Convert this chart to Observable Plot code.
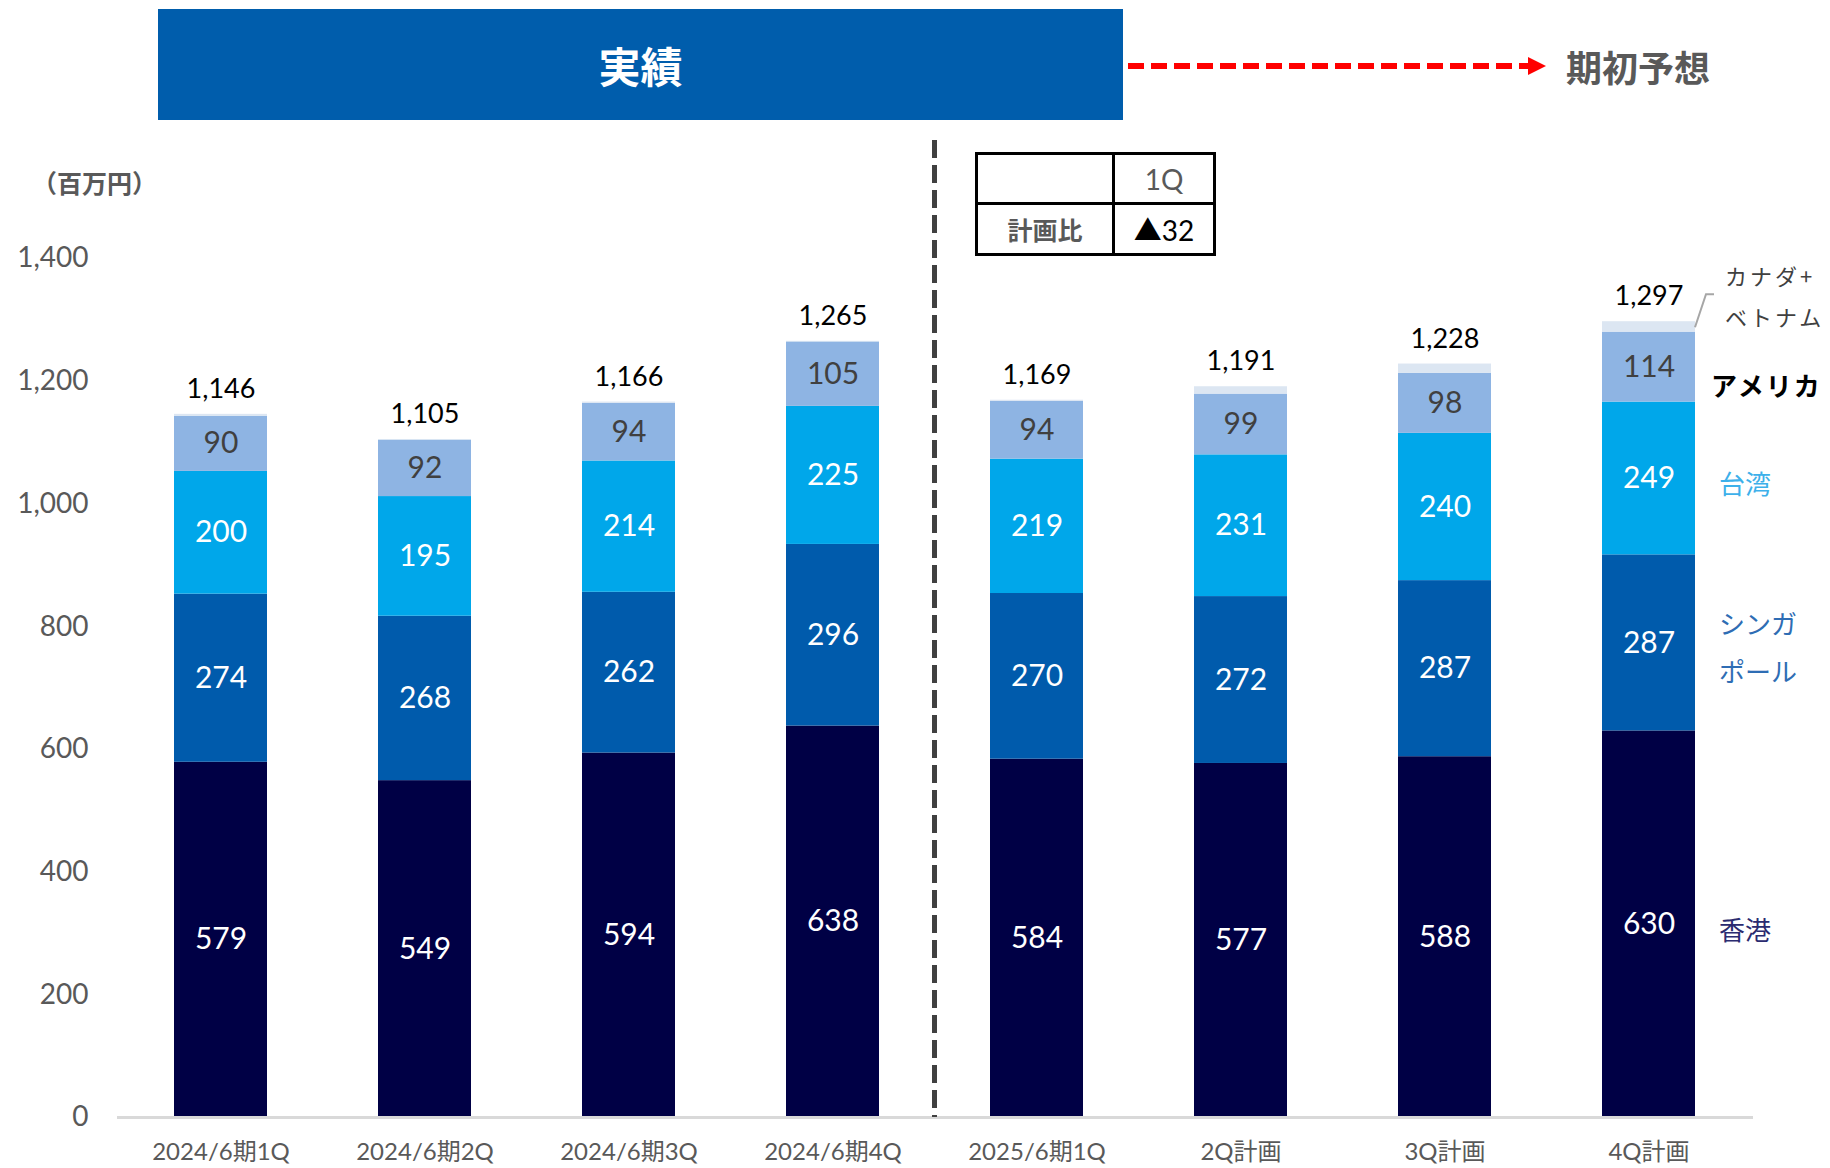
<!DOCTYPE html>
<html><head><meta charset="utf-8">
<script src="https://cdn.jsdelivr.net/npm/d3@7"></script>
<script src="https://cdn.jsdelivr.net/npm/@observablehq/plot@0.6"></script>
<style>
html,body{margin:0;padding:0;background:#fff;overflow:hidden;}
#wrap{position:relative;width:1830px;height:1168px;overflow:hidden;font-family:Lato,"Noto Sans CJK JP",sans-serif;}
#wrap svg{display:block;}
.abs{position:absolute;}
#banner{left:158px;top:9px;width:965px;height:111px;background:#005DAC;color:#fff;font-family:"Noto Sans CJK JP",sans-serif;font-weight:700;font-size:42px;display:flex;align-items:center;justify-content:center;}
#forecast{left:1566px;top:42px;font-family:"Noto Sans CJK JP",sans-serif;font-weight:700;font-size:36px;color:#595959;line-height:48px;}
#unit{left:32px;top:164px;font-family:"Noto Sans CJK JP",sans-serif;font-weight:700;font-size:25px;color:#595959;line-height:36px;}
#tbl{left:975px;top:152px;border-collapse:collapse;font-family:Lato,"Noto Sans CJK JP",sans-serif;}
#tbl td{border:3px solid #000;text-align:center;padding:0;}
</style></head><body><div id="wrap"></div>
<script>
// ---- data ----
const categories = ["2024/6期1Q","2024/6期2Q","2024/6期3Q","2024/6期4Q","2025/6期1Q","2Q計画","3Q計画","4Q計画"];
const seriesNames = ["香港","シンガポール","台湾","アメリカ","カナダ+ベトナム"];
const hongkong  = [579,549,594,638,584,577,588,630];
const singapore = [274,268,262,296,270,272,287,287];
const taiwan    = [200,195,214,225,219,231,240,249];
const america   = [90,92,94,105,94,99,98,114];
const canadaVietnam = [3,1,2,1,2,12,15,17];
const totals    = [1146,1105,1166,1265,1169,1191,1228,1297];
const yTicks    = [0,200,400,600,800,1000,1200,1400];
const tableHeader = "1Q";
const tableRowLabel = "計画比";
const tableValue = "▲32";

// ---- styles ----
const colors = ["#000045","#005BAC","#00A7EA","#8EB4E3","#DCE6F2"];
const labelColors = ["#2B2B70","#2E6DB4","#3DB0EA","#000000","#404040"];

const seriesValues = [hongkong, singapore, taiwan, america, canadaVietnam];
const rows = [];
categories.forEach((c, i) => {
  let base = 0;
  seriesValues.forEach((arr, k) => {
    rows.push({cat: c, series: seriesNames[k], k, value: arr[i], y1: base, y2: base + arr[i], mid: base + arr[i] / 2});
    base += arr[i];
  });
});
const totalRows = categories.map((c, i) => ({cat: c, total: totals[i]}));
const last = categories[categories.length - 1];
const lastRows = rows.filter(r => r.cat === last);
const legendRows = [
  {cat: last, label: "香港", y: lastRows[0].mid, color: labelColors[0]},
  {cat: last, label: "シンガ\nポール", y: lastRows[1].mid, color: labelColors[1]},
  {cat: last, label: "台湾", y: lastRows[2].mid, color: labelColors[2]}
];

const W = 1830, H = 1168;
const plot = Plot.plot({
  width: W, height: H,
  marginLeft: 117, marginRight: 77, marginTop: 258, marginBottom: 51,
  style: {fontFamily: 'Lato, "Noto Sans CJK JP", sans-serif', fontSize: "28px", background: "transparent", overflow: "visible"},
  x: {domain: categories, paddingInner: 0.543, paddingOuter: 0.2715, label: null},
  y: {domain: [0, 1400], label: null},
  color: {domain: seriesNames, range: colors},
  marks: [
    Plot.barY(rows, {x: "cat", y1: "y1", y2: "y2", fill: "series"}),
    Plot.ruleY([0], {stroke: "#D9D9D9", strokeWidth: 3}),
    Plot.axisY({ticks: yTicks, tickFormat: d3.format(","), tickSize: 0, tickPadding: 29, fontSize: 28, fill: "#595959", label: null}),
    Plot.axisX({tickSize: 0, tickPadding: 25, fontSize: 24, fill: "#595959", label: null}),
    Plot.text(rows.filter(r => r.k < 3), {x: "cat", y: "mid", text: d => String(d.value), fill: "white", fontSize: 30}),
    Plot.text(rows.filter(r => r.k === 3), {x: "cat", y: "mid", text: d => String(d.value), fill: "#404040", fontSize: 30}),
    Plot.text(totalRows, {x: "cat", y: "total", text: d => d3.format(",")(d.total), dy: -25, fill: "#000", fontSize: 27}),
    Plot.text(legendRows, {x: "cat", y: "y", text: "label", fill: d => d.color, dx: 70, textAnchor: "start", fontSize: 26, lineHeight: 1.85, fontFamily: '"Noto Sans CJK JP", sans-serif'}),
    Plot.text([lastRows[3]], {x: "cat", y: "mid", text: () => "アメリカ", dx: 62, dy: 21, textAnchor: "start", fontSize: 26, fontWeight: 700, fill: "#000", fontFamily: '"Noto Sans CJK JP", sans-serif'}),
    Plot.text([totalRows[7]], {x: "cat", y: "total", text: () => "カナダ+\nベトナム", dx: 76, dy: -29, textAnchor: "start", fontSize: 22, lineHeight: 1.86, fill: "#404040", fontFamily: '"Noto Sans CJK JP", sans-serif'})
  ]
});
const wrap = document.getElementById("wrap");
wrap.appendChild(plot);
plot.querySelectorAll("text").forEach(t => {
  const s = t.textContent;
  if (s === "アメリカ") t.setAttribute("letter-spacing", "2");
  if (s.startsWith("カナダ")) t.setAttribute("letter-spacing", "3");
});

// overlays positioned from the plot's own scales
const xs = plot.scale("x"), ys = plot.scale("y");
const bw = xs.bandwidth;
const divX = (xs.apply(categories[3]) + xs.apply(categories[4])) / 2 + bw / 2;
const y0 = ys.apply(0);
const xr = xs.apply(last) + bw;
const yTop = ys.apply(totals[7]);
const ns = "http://www.w3.org/2000/svg";
const ov = document.createElementNS(ns, "svg");
ov.setAttribute("width", W); ov.setAttribute("height", H);
ov.setAttribute("class", "abs"); ov.style.left = "0px"; ov.style.top = "0px";
ov.innerHTML = `
  <line x1="${divX}" x2="${divX}" y1="140" y2="${y0}" stroke="#404040" stroke-width="5" stroke-dasharray="18 7"/>
  <polyline points="${xr},${yTop + 6} ${xr + 11},${yTop - 27} ${xr + 19},${yTop - 27}" fill="none" stroke="#A6A6A6" stroke-width="2"/>
  <line x1="1128" x2="1530" y1="66" y2="66" stroke="#FF0000" stroke-width="6" stroke-dasharray="16 7"/>
  <polygon points="1528,57 1546,66 1528,75" fill="#FF0000"/>
`;
wrap.appendChild(ov);

const banner = document.createElement("div");
banner.id = "banner"; banner.className = "abs"; banner.textContent = "実績";
wrap.appendChild(banner);
const fc = document.createElement("div");
fc.id = "forecast"; fc.className = "abs"; fc.textContent = "期初予想";
wrap.appendChild(fc);
const unit = document.createElement("div");
unit.id = "unit"; unit.className = "abs"; unit.textContent = "（百万円）";
wrap.appendChild(unit);
const tbl = document.createElement("table");
tbl.id = "tbl"; tbl.className = "abs";
tbl.innerHTML = `<tr style="height:50px"><td style="width:134px"></td><td style="width:98px;font-size:28px;color:#595959">${tableHeader}</td></tr>
<tr style="height:51px"><td style="font-size:25px;color:#595959;font-family:'Noto Sans CJK JP',sans-serif;font-weight:700">${tableRowLabel}</td><td style="font-size:28px;color:#000">${tableValue}</td></tr>`;
wrap.appendChild(tbl);
</script></body></html>
